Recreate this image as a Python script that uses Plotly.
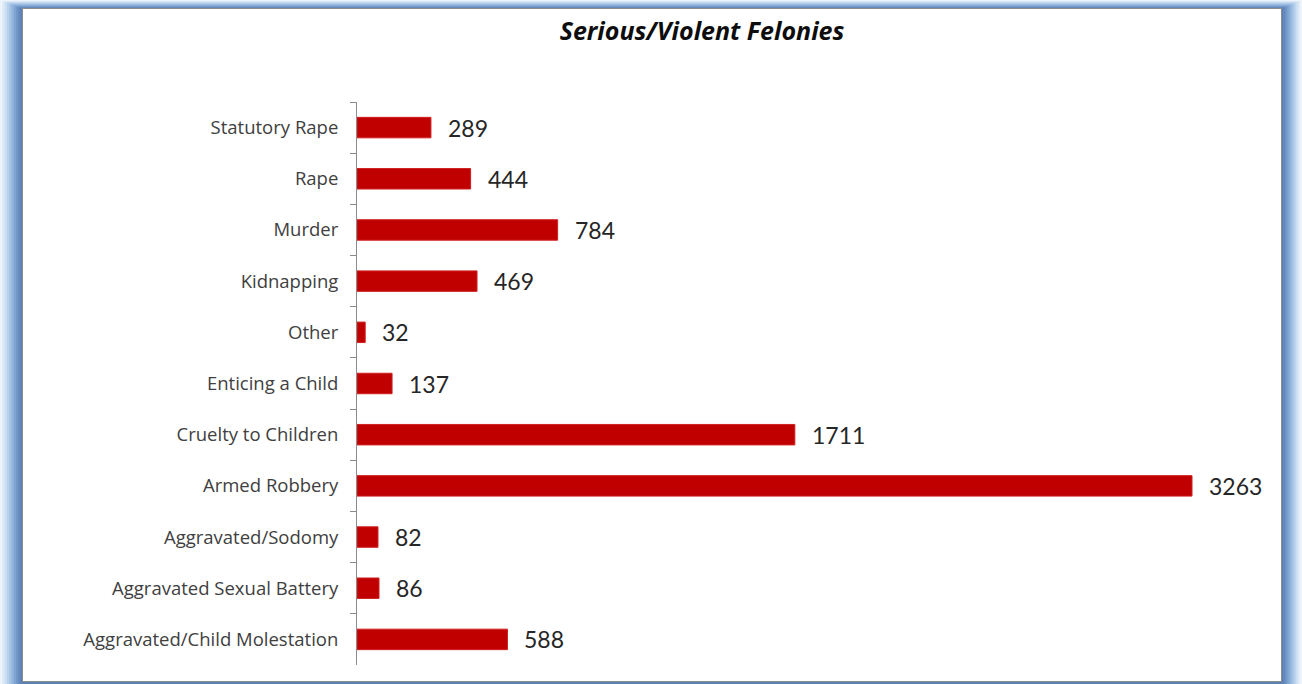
import plotly.graph_objects as go

categories = [
    "Statutory Rape",
    "Rape",
    "Murder",
    "Kidnapping",
    "Other",
    "Enticing a Child",
    "Cruelty to Children",
    "Armed Robbery",
    "Aggravated/Sodomy",
    "Aggravated Sexual Battery",
    "Aggravated/Child Molestation",
]
values = [289, 444, 784, 469, 32, 137, 1711, 3263, 82, 86, 588]
title_text = "Serious/Violent Felonies"

W, H = 1302, 684
ML, MR, MT, MB = 357, 24, 102, 19
PW, PH = W - ML - MR, H - MT - MB


def px(x):
    return (x - ML) / PW


def py(y):
    return 1 - (y - MT) / PH


fig = go.Figure()
fig.add_trace(go.Bar(
    x=values,
    y=categories,
    orientation="h",
    marker=dict(color="#C00000", line=dict(color="#D02020", width=1)),
    hoverinfo="x+y",
))

shapes = []
glow = ["#eef4fb", "#dde9f6", "#cbdef2", "#b8d1ec", "#a5c3e5", "#92b4dc",
        "#80a5d2", "#7097c8", "#6389bd", "#5a80b5"]
n = len(glow)
for i, c in enumerate(glow):
    t = i / n
    shapes.append(dict(
        type="rect", xref="paper", yref="paper", layer="below",
        x0=px(23 * t), y0=py(684 + 4), x1=px(W - 21 * t), y1=py(9 * t),
        fillcolor=c, line=dict(width=0),
    ))
shapes.append(dict(
    type="rect", xref="paper", yref="paper", layer="below",
    x0=px(22.5), y0=py(681.5), x1=px(1281.5), y1=py(8.5),
    fillcolor="#ffffff", line=dict(color="#8c8c8c", width=1),
))

annotations = []
for c, v in zip(categories, values):
    annotations.append(dict(
        x=v, y=c, xref="x", yref="y", text=str(v), showarrow=False,
        xanchor="left", yanchor="middle", xshift=15,
        font=dict(family="Lato", size=23, color="#262626"),
    ))

fig.update_layout(
    width=W, height=H,
    margin=dict(l=ML, r=MR, t=MT, b=MB, pad=0),
    paper_bgcolor="#ffffff",
    plot_bgcolor="rgba(0,0,0,0)",
    showlegend=False,
    bargap=0.6,
    title=dict(
        text="<b><i>" + title_text + "</i></b>",
        x=px(702), xref="paper", xanchor="center",
        y=1 - 31 / H, yref="container", yanchor="middle",
        font=dict(family="Open Sans", size=25, color="#0d0d0d"),
    ),
    xaxis=dict(
        range=[0, PW / ((1192 - 357) / 3263)],
        showgrid=False, zeroline=False, showline=False,
        showticklabels=False, ticks="",
    ),
    yaxis=dict(
        autorange="reversed",
        showgrid=False, zeroline=False,
        showline=True, linecolor="#8c8c8c", linewidth=1,
        ticks="outside", tickson="boundaries", ticklen=6,
        tickcolor="#8c8c8c", tickwidth=1,
        ticklabelstandoff=14,
        tickfont=dict(family="Open Sans", size=18.5, color="#404040"),
    ),
    shapes=shapes,
    annotations=annotations,
)

fig.write_html("out.html", config={"displayModeBar": False},
               post_script="document.body.style.margin='0';")
